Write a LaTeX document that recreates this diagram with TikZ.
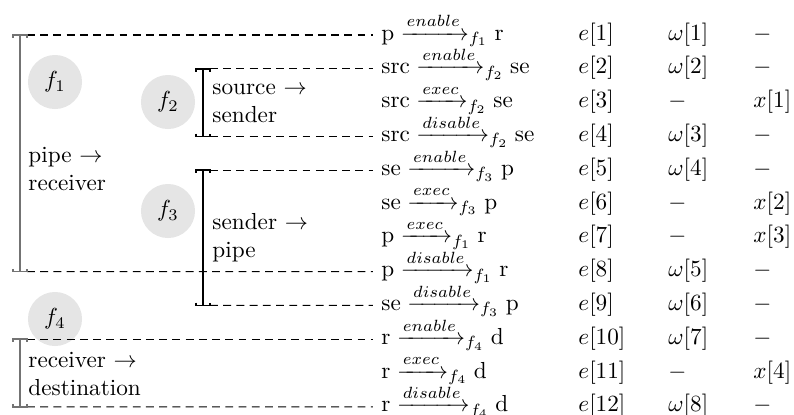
\documentclass[tikz,border=0pt]{standalone}
\usepackage{amsmath}
\begin{document}
\begin{tikzpicture}[x=0.431pt,y=-0.431pt,
  fcirc/.style={circle,fill=black!10,minimum size=23.3pt,inner sep=0pt},
  gbr/.style={draw=black!55,line width=0.7pt},
  bbr/.style={draw=black,line width=0.65pt},
  dline/.style={dash pattern=on 3.4pt off 2.3pt,line width=0.45pt},
  expr/.style={anchor=base west,inner sep=0pt,inner xsep=3.45pt},
  col/.style={anchor=base west,inner sep=0pt},
  lbl/.style={anchor=base west,align=left,inner sep=0pt}
]
\useasboundingbox (0,0) rectangle (794,414);

% circles
\node[fcirc] (c1) at (55,82) {$f_1$};
\node[fcirc] (c2) at (168,102) {$f_2$};
\node[fcirc] (c3) at (168,211) {$f_3$};
\node[fcirc] (c4) at (55,319) {$f_4$};

% rows
\foreach \i/\a/\l/\f/\b/\w/\xx in {
  1/p/enable/1/r/{$\omega[1]$}/{$-$},
  2/src/enable/2/se/{$\omega[2]$}/{$-$},
  3/src/exec/2/se/{$-$}/{$x[1]$},
  4/src/disable/2/se/{$\omega[3]$}/{$-$},
  5/se/enable/3/p/{$\omega[4]$}/{$-$},
  6/se/exec/3/p/{$-$}/{$x[2]$},
  7/p/exec/1/r/{$-$}/{$x[3]$},
  8/p/disable/1/r/{$\omega[5]$}/{$-$},
  9/se/disable/3/p/{$\omega[6]$}/{$-$},
  10/r/enable/4/d/{$\omega[7]$}/{$-$},
  11/r/exec/4/d/{$-$}/{$x[4]$},
  12/r/disable/4/d/{$\omega[8]$}/{$-$}}{
  \pgfmathsetmacro\yy{35+33.8*(\i-1)}
  \coordinate (row\i) at (0,\yy);
  \node[expr] (r\i) at (373,\yy+5) {$\mathrm{\a}\xrightarrow{\l}_{f_\f}\mathrm{\b}$};
  \node[col] (e\i) at (578,\yy+5) {$e[\i]$};
  \node[col] (w\i) at (668,\yy+5) {\w};
  \node[col] (x\i) at (753,\yy+5) {\xx};
}

% bracket end points
\coordinate (b1t) at (20,35);   \coordinate (b1b) at (20,271.6);
\coordinate (b2t) at (203,68.8); \coordinate (b2b) at (203,136.4);
\coordinate (b3t) at (203,170.2); \coordinate (b3b) at (203,305.4);
\coordinate (b4t) at (20,339.2); \coordinate (b4b) at (20,406.8);

% dashed connectors
\draw[dline] ([xshift=3pt]b1t) -- (row1 -| r1.west);
\draw[dline] ([xshift=3pt]b1b) -- (row8 -| r8.west);
\draw[dline] ([xshift=3pt]b2t) -- (row2 -| r2.west);
\draw[dline] ([xshift=3pt]b2b) -- (row4 -| r4.west);
\draw[dline] ([xshift=3pt]b3t) -- (row5 -| r5.west);
\draw[dline] ([xshift=3pt]b3b) -- (row9 -| r9.west);
\draw[dline] ([xshift=3pt]b4t) -- (row10 -| r10.west);
\draw[dline] ([xshift=3pt]b4b) -- (row12 -| r12.west);

% brackets
\foreach \k/\s in {1/gbr,2/bbr,3/bbr,4/gbr}{
  \draw[\s] ([xshift=-3pt,yshift=-1.2pt]b\k t) -- ([xshift=-3pt]b\k t) -- ([xshift=3pt]b\k t) -- ([xshift=3pt,yshift=-1.2pt]b\k t);
  \draw[\s] (b\k t) -- (b\k b);
  \draw[\s] ([xshift=-3pt,yshift=1.2pt]b\k b) -- ([xshift=-3pt]b\k b) -- ([xshift=3pt]b\k b) -- ([xshift=3pt,yshift=1.2pt]b\k b);
}

% labels (base anchor = baseline of the last line)
\node[lbl] (l1) at (28,190) {pipe $\rightarrow$\\receiver};
\node[lbl] (l2) at (212,122) {source $\rightarrow$\\sender};
\node[lbl] (l3) at (212,257) {sender $\rightarrow$\\pipe};
\node[lbl] (l4) at (28,395) {receiver $\rightarrow$\\destination};
\end{tikzpicture}
\end{document}
